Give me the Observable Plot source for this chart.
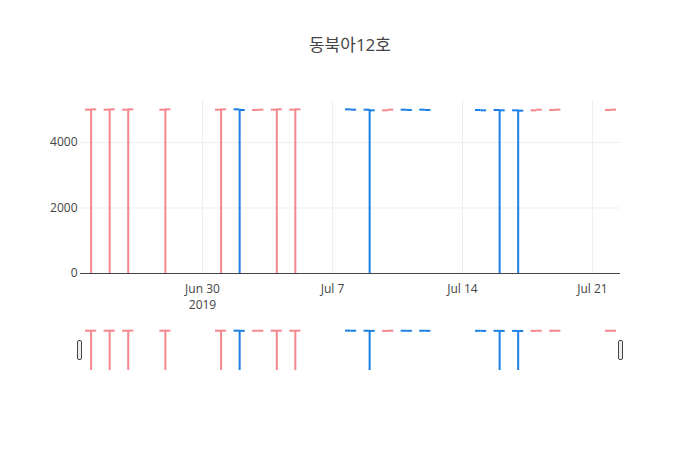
<!DOCTYPE html>
<html>
<head>
<meta charset="utf-8">
<script src="https://cdn.jsdelivr.net/npm/d3@7"></script>
<script src="https://cdn.jsdelivr.net/npm/@observablehq/plot@0.6"></script>
<style>
  body { margin: 0; background: #fff; }
  #wrap { position: relative; width: 700px; height: 450px; background: #fff; font-family: "Open Sans", "Noto Sans CJK KR", sans-serif; }
  #title { position: absolute; top: 31px; left: 0; width: 700px; text-align: center; font-size: 17px; color: #444; font-family: "Open Sans", "Noto Sans CJK KR", sans-serif; }
  #main { position: absolute; top: 90px; left: 0; }
  #slider { position: absolute; top: 318px; left: 0; }
  .handle { position: absolute; width: 3px; height: 18px; border: 1px solid #444; border-radius: 2px; background: #eee; top: 340px; }
</style>
</head>
<body>
<div id="wrap">
  <div id="title">동북아12호</div>
  <div id="main"></div>
  <div id="slider"></div>
  <div class="handle" style="left:77px"></div>
  <div class="handle" style="left:618px"></div>
</div>
<script>
const dates = ["2019-06-24","2019-06-25","2019-06-26","2019-06-28","2019-07-01","2019-07-02","2019-07-03","2019-07-04","2019-07-05","2019-07-08","2019-07-09","2019-07-10","2019-07-11","2019-07-12","2019-07-15","2019-07-16","2019-07-17","2019-07-18","2019-07-19","2019-07-22"];
const opens  = [5000,5000,5000,5000,5000,5010,4990,5000,5000,5010,5000,4980,5000,5000,4990,4990,4980,4980,4990,4990];
const highs  = [5010,5010,5010,5010,5010,5010,5000,5010,5010,5010,5000,5000,5000,5000,4990,4990,4980,5000,5000,5000];
const lows   = [0,0,0,0,0,0,4990,0,0,5000,0,4980,4990,4990,4980,0,0,4980,4990,4990];
const closes = [5010,5010,5010,5010,5010,4990,5000,5010,5010,5000,4980,5000,4990,4990,4980,4980,4970,5000,5000,5000];
const directions = ["up","up","up","up","up","down","up","up","up","down","down","up","down","down","down","down","down","up","up","up"];
const xTicks = ["2019-06-30","2019-07-07","2019-07-14","2019-07-21"];
const xTickLabels = ["Jun 30","Jul 7","Jul 14","Jul 21"];
const yearTick = "2019-06-30";
const yearLabel = "2019";
const yTicks = [0,2000,4000];

const parse = d3.utcParse("%Y-%m-%d");
const data = dates.map((d,i) => ({date: parse(d), open: opens[i], high: highs[i], low: lows[i], close: closes[i], dir: directions[i]}));
const DAY = 864e5;
const tickHalf = 0.3 * DAY;
const xDomain = [new Date(+parse("2019-06-24") - 0.57*DAY), new Date(+parse("2019-07-22") + 0.51*DAY)];
const tickDates = xTicks.map(parse);
const colorScale = {domain: ["up","down"], range: ["#F4868C","#1B7FE6"]};

function ohlcMarks(sw) {
  return [
    Plot.ruleX(data, {x: "date", y1: "low", y2: "high", stroke: "dir", strokeWidth: sw}),
    Plot.ruleY(data, {y: "open", x1: d => new Date(+d.date - tickHalf), x2: "date", stroke: "dir", strokeWidth: sw}),
    Plot.ruleY(data, {y: "close", x1: "date", x2: d => new Date(+d.date + tickHalf), stroke: "dir", strokeWidth: sw})
  ];
}

const main = Plot.plot({
  width: 700, height: 228,
  marginTop: 10, marginBottom: 45, marginLeft: 80, marginRight: 80,
  style: {fontFamily: "'Open Sans', sans-serif", fontSize: "12px", color: "#444", background: "transparent"},
  x: {type: "utc", domain: xDomain, label: null},
  y: {domain: [0, 5280], label: null},
  color: colorScale,
  marks: [
    Plot.gridX(tickDates, {stroke: "#eee", strokeOpacity: 1, strokeWidth: 1}),
    Plot.gridY(yTicks.filter(v => v > 0), {stroke: "#eee", strokeOpacity: 1, strokeWidth: 1}),
    Plot.axisX({ticks: tickDates, tickSize: 0, tickPadding: 11, tickFormat: d => xTickLabels[tickDates.findIndex(t => +t === +d)], fill: "#444", fontSize: 12}),
    Plot.axisX({ticks: [parse(yearTick)], tickSize: 0, tickPadding: 27, tickFormat: () => yearLabel, fill: "#444", fontSize: 12}),
    Plot.axisY({ticks: yTicks, tickSize: 0, tickPadding: 3, tickFormat: d => String(d), fill: "#444", fontSize: 12}),
    ...ohlcMarks(2),
    Plot.ruleY([0], {stroke: "#444", strokeWidth: 1})
  ]
});
document.getElementById("main").appendChild(main);

const slider = Plot.plot({
  width: 700, height: 55,
  marginTop: 10, marginBottom: 3, marginLeft: 80, marginRight: 80,
  style: {background: "transparent"},
  x: {type: "utc", domain: xDomain, axis: null},
  y: {domain: [0, 5280], axis: null},
  color: colorScale,
  marks: ohlcMarks(2)
});
document.getElementById("slider").appendChild(slider);
</script>
</body>
</html>
